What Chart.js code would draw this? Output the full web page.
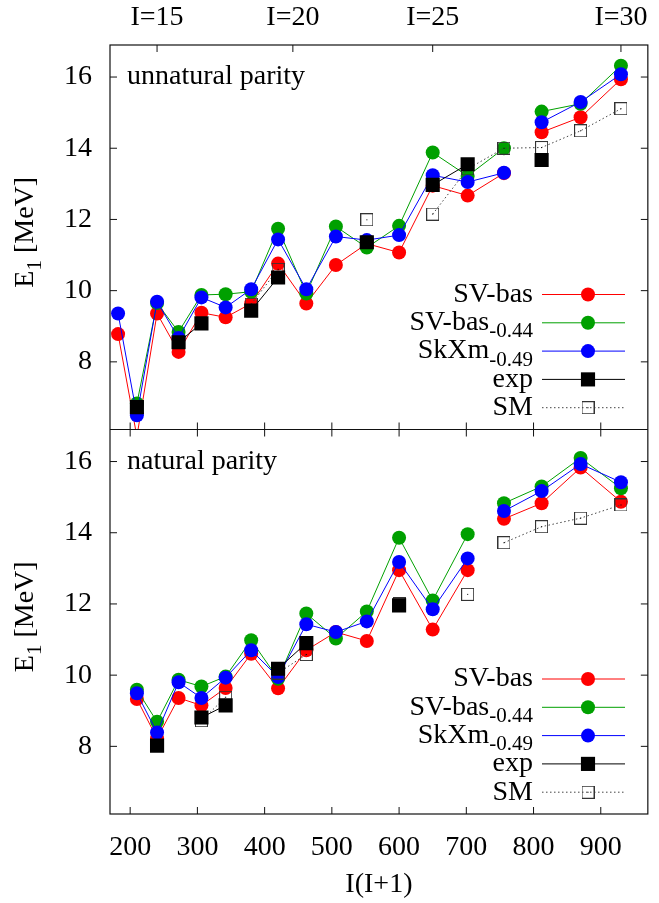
<!DOCTYPE html>
<html><head><meta charset="utf-8">
<script src="https://cdn.jsdelivr.net/npm/chart.js@4/dist/chart.umd.min.js"></script>
<style>html,body{margin:0;padding:0;background:#fff;overflow:hidden}#wrap{width:659px;height:903px;position:relative}</style>
</head><body><div id="wrap"><canvas id="c" width="659" height="903"></canvas></div>
<script>
// ---- data ----
const II = [182,210,240,272,306,342,380,420,462,506,552,600,650,702,756,812,870,930];
const X_TICKS = [200,300,400,500,600,700,800,900];
const TOP_TICKS = [240,442,650,930];
const TOP_LABELS = ['I=15','I=20','I=25','I=30'];
const Y_TICKS = [8,10,12,14,16];
const NAMES = ['SV-bas','SV-bas','SkXm','exp','SM'];
const SUBS = ['','-0.44','-0.49','',''];
const PANEL_TITLES = ['unnatural parity','natural parity'];

// unnatural parity (top panel)
const unSVbas  = [8.78, 5.9, 9.36, 8.28, 9.38, 9.25, 9.64, 10.76, 9.64, 10.72, 11.32, 11.07, 12.95, 12.67, 13.30, 14.45, 14.87, 15.94];
const unSV044  = [null, 6.83, 9.65, 8.84, 9.88, 9.90, 9.97, 11.74, 9.92, 11.80, 11.21, 11.82, 13.88, 13.22, 14.00, 15.03, 15.25, 16.32];
const unSkXm   = [9.36, 6.50, 9.69, 8.67, 9.81, 9.53, 10.04, 11.44, 10.04, 11.52, 11.42, 11.56, 13.24, 13.05, 13.31, 14.73, 15.30, 16.08];
const unExp    = [null, 6.73, null, 8.55, 9.08, null, 9.44, 10.37, null, null, 11.36, null, 12.97, 13.55, null, 13.67, null, null];
const unSM     = [null, null, null, null, null, null, 9.62, 10.60, null, null, 11.99, null, 12.15, 13.42, 14.00, 14.02, 14.49, 15.11];
// natural parity (bottom panel)
const naSVbas  = [null, 9.33, 8.22, 9.36, 9.15, 9.64, 10.60, 9.63, 10.70, 11.21, 10.96, 12.95, 11.28, 12.95, 14.39, 14.83, 15.83, 14.87];
const naSV044  = [null, 9.59, 8.69, 9.87, 9.68, 9.96, 10.98, 9.90, 11.73, 11.03, 11.79, 13.86, 12.10, 13.96, 14.83, 15.30, 16.10, 15.25];
const naSkXm   = [null, 9.49, 8.39, 9.80, 9.36, 9.93, 10.70, 9.95, 11.43, 11.21, 11.51, 13.18, 11.85, 13.28, 14.61, 15.17, 15.93, 15.42];
const naExp    = [null, null, 8.02, null, 8.81, 9.15, null, 10.18, 10.90, null, null, 11.96, null, null, null, null, null, null];
const naSM     = [null, null, null, null, 8.72, 9.38, null, 10.06, 10.58, null, null, 12.00, null, 12.27, 13.72, 14.17, 14.41, 14.78];

const TOP_BREAK = 756; // lines not joined after this I(I+1)
const BOT_BREAK = 702;

// ---- styles ----
const FONT = 'Liberation Serif, Times New Roman, serif';
const COLORS = ['#ff0000', '#00a000', '#0000ff', '#000000', '#444444'];

function smMarker(size){
  const c = document.createElement('canvas'); c.width = c.height = size;
  const g = c.getContext('2d');
  g.strokeStyle = '#333'; g.lineWidth = 1; g.strokeRect(0.5,0.5,size-1,size-1);
  g.fillStyle = '#000'; g.fillRect(Math.floor(size/2), Math.floor(size/2), 1, 1);
  return c;
}
const SM_IMG = smMarker(13);

function style(k){
  if (k < 3) return {borderColor: COLORS[k], backgroundColor: COLORS[k], pointBackgroundColor: COLORS[k],
    pointBorderWidth: 0, pointRadius: 7, pointStyle: 'circle', borderWidth: 1, order: 5 - k + 2};
  if (k === 3) return {borderColor: '#000', backgroundColor: '#000', pointBackgroundColor: '#000',
    pointBorderWidth: 0, pointRadius: 10, pointStyle: 'rect', borderWidth: 1, order: 1};
  return {borderColor: '#444', backgroundColor: 'rgba(0,0,0,0)', pointBorderWidth: 0, pointRadius: 7,
    pointStyle: SM_IMG, borderWidth: 1, borderDash: [1.5, 2.5], order: 2};
}

function mk(k, arr, yId, brk){
  const ds = Object.assign({label: NAMES[k] + SUBS[k], data: II.map((x,i)=>({x, y: arr[i]})),
    xAxisID: 'x', yAxisID: yId, spanGaps: false, tension: 0, fill: false}, style(k));
  if (brk !== null) ds.segment = {borderColor: c => (c.p0.parsed.x === brk ? 'rgba(0,0,0,0)' : undefined)};
  return ds;
}

const datasets = [
  mk(0, unSVbas, 'yTop', TOP_BREAK), mk(1, unSV044, 'yTop', TOP_BREAK), mk(2, unSkXm, 'yTop', TOP_BREAK),
  mk(3, unExp, 'yTop', null), mk(4, unSM, 'yTop', null),
  mk(0, naSVbas, 'yBot', BOT_BREAK), mk(1, naSV044, 'yBot', BOT_BREAK), mk(2, naSkXm, 'yBot', BOT_BREAK),
  mk(3, naExp, 'yBot', null), mk(4, naSM, 'yBot', BOT_BREAK)
];

function drawRich(ctx, parts, x, y, align){
  let w = 0;
  parts.forEach(p => { ctx.font = (p.sub ? '21px ' : '28px ') + FONT; p.w = ctx.measureText(p.t).width; w += p.w; });
  let cx = align === 'right' ? x - w : (align === 'center' ? x - w/2 : x);
  ctx.textAlign = 'left'; ctx.textBaseline = 'middle'; ctx.fillStyle = '#000';
  parts.forEach(p => { ctx.font = (p.sub ? '21px ' : '28px ') + FONT; ctx.fillText(p.t, cx, y + (p.sub ? 9 : 0)); cx += p.w; });
}

const decor = {
  id: 'decor',
  beforeDatasetDraw(chart, args){
    const ys = args.meta.yScale, a = chart.chartArea, ctx = chart.ctx;
    ctx.save(); ctx.beginPath(); ctx.rect(a.left, ys.top, a.right - a.left, ys.bottom - ys.top); ctx.clip();
  },
  afterDatasetDraw(chart){ chart.ctx.restore(); },
  afterDraw(chart){
    const ctx = chart.ctx, a = chart.chartArea, sx = chart.scales.x, sx2 = chart.scales.x2;
    const panels = [chart.scales.yTop, chart.scales.yBot];
    const TL = 7;
    ctx.save();
    ctx.strokeStyle = '#111'; ctx.lineWidth = 1.2;
    ctx.strokeRect(a.left, a.top, a.right - a.left, a.bottom - a.top);
    ctx.beginPath(); ctx.moveTo(a.left, panels[0].bottom); ctx.lineTo(a.right, panels[0].bottom); ctx.stroke();
    ctx.lineWidth = 1;
    ctx.beginPath();
    TOP_TICKS.forEach(v => { const p = sx2.getPixelForValue(v); ctx.moveTo(p, a.top); ctx.lineTo(p, a.top + TL); });
    X_TICKS.forEach(v => {
      const p = sx.getPixelForValue(v);
      ctx.moveTo(p, panels[0].bottom - TL); ctx.lineTo(p, panels[0].bottom + TL);
      ctx.moveTo(p, a.bottom); ctx.lineTo(p, a.bottom - TL);
    });
    panels.forEach(ys => Y_TICKS.forEach(v => {
      const p = ys.getPixelForValue(v);
      ctx.moveTo(a.left, p); ctx.lineTo(a.left + TL, p);
      ctx.moveTo(a.right, p); ctx.lineTo(a.right - TL, p);
    }));
    ctx.stroke();

    // panel titles, y titles, legends
    panels.forEach((ys, pi) => {
      ctx.font = '28px ' + FONT; ctx.fillStyle = '#000'; ctx.textAlign = 'left'; ctx.textBaseline = 'middle';
      ctx.fillText(PANEL_TITLES[pi], a.left + 17, ys.top + 32);
      ctx.save();
      ctx.translate(26, (ys.top + ys.bottom) / 2 - 5); ctx.rotate(-Math.PI / 2);
      drawRich(ctx, [{t:'E'}, {t:'1', sub:true}, {t:' [MeV]'}], 0, 0, 'center');
      ctx.restore();
      const dsBase = pi * 5;
      for (let k = 0; k < 5; k++){
        const y = ys.bottom - 135 + k * 28.3;
        const parts = [{t: NAMES[k]}]; if (SUBS[k]) parts.push({t: SUBS[k], sub: true});
        drawRich(ctx, parts, a.left + 423, y, 'right');
        const ds = chart.data.datasets[dsBase + k];
        ctx.save();
        ctx.strokeStyle = ds.borderColor; ctx.lineWidth = 1; ctx.setLineDash(ds.borderDash || []);
        ctx.beginPath(); ctx.moveTo(a.left + 432, y); ctx.lineTo(a.left + 515, y); ctx.stroke();
        ctx.setLineDash([]);
        ctx.fillStyle = ds.pointBackgroundColor || ds.backgroundColor;
        Chart.helpers.drawPoint(ctx, {pointStyle: ds.pointStyle, radius: ds.pointRadius, rotation: 0, borderWidth: 0}, a.left + 478, y);
        ctx.restore();
      }
    });
    ctx.font = '28px ' + FONT; ctx.textAlign = 'center'; ctx.textBaseline = 'middle'; ctx.fillStyle = '#000';
    ctx.fillText('I(I+1)', (a.left + a.right) / 2, 885);
    ctx.restore();
  }
};

const tickFont = {family: FONT, size: 28};
function yAxis(weight){
  return {type: 'linear', position: 'left', stack: 'E', stackWeight: 1, weight, min: 6.1, max: 16.9,
    afterBuildTicks: s => { s.ticks = Y_TICKS.map(v => ({value: v})); },
    afterFit: s => { s.width = 110; },
    grid: {display: false, drawTicks: false}, border: {display: false},
    ticks: {font: tickFont, color: '#000', padding: 18}};
}

new Chart(document.getElementById('c'), {
  type: 'line',
  data: {datasets},
  options: {
    responsive: false, animation: false, devicePixelRatio: 1,
    layout: {padding: {right: 1, left: 0, top: 0, bottom: 0}},
    plugins: {legend: {display: false}, tooltip: {enabled: false}},
    scales: {
      x: {type: 'linear', position: 'bottom', min: 170, max: 970,
        afterBuildTicks: s => { s.ticks = X_TICKS.map(v => ({value: v})); },
        afterFit: s => { s.height = 89; },
        grid: {display: false, drawTicks: false}, border: {display: false},
        ticks: {font: tickFont, color: '#000', padding: 17, maxRotation: 0}},
      x2: {type: 'linear', position: 'top', min: 170, max: 970,
        afterBuildTicks: s => { s.ticks = TOP_TICKS.map(v => ({value: v})); },
        afterFit: s => { s.height = 45; },
        grid: {display: false, drawTicks: false}, border: {display: false},
        ticks: {font: tickFont, color: '#000', padding: 11, maxRotation: 0,
          callback: (v, i) => TOP_LABELS[i]}},
      yTop: yAxis(2),
      yBot: yAxis(1)
    }
  },
  plugins: [decor]
});
</script></body></html>
